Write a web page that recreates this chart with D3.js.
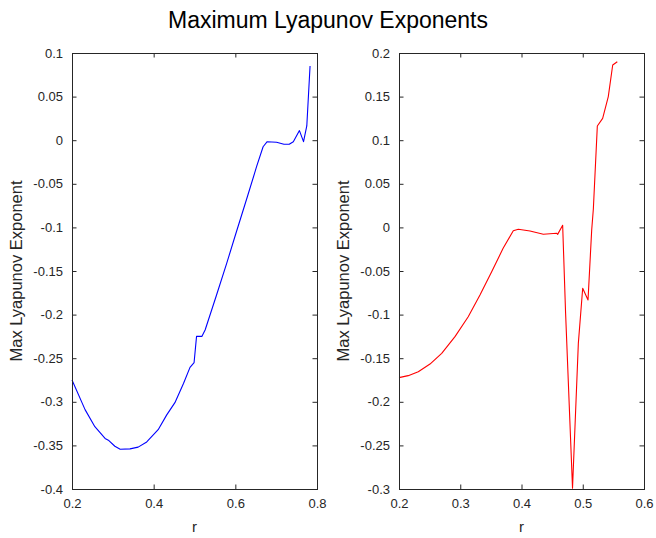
<!DOCTYPE html>
<html>
<head>
<meta charset="utf-8">
<script src="https://cdn.jsdelivr.net/npm/d3@7"></script>
<style>
  html, body { margin: 0; padding: 0; background: #fff; }
  svg { display: block; font-family: "Liberation Sans", Arial, Helvetica, sans-serif; }
</style>
</head>
<body>
<svg id="chart" width="656" height="538"></svg>
<script>
// Maximum Lyapunov exponent versus parameter r, two runs.
const rLeft = [0.200, 0.232, 0.256, 0.281, 0.289, 0.305, 0.318, 0.342, 0.362, 0.383, 0.411, 0.432,
  0.452, 0.473, 0.489, 0.499, 0.505, 0.518, 0.526, 0.554, 0.579, 0.600, 0.630, 0.652, 0.668,
  0.678, 0.701, 0.719, 0.732, 0.742, 0.757, 0.767, 0.775, 0.783];
const lyapLeft = [-0.275, -0.309, -0.3285, -0.342, -0.344, -0.351, -0.3545, -0.354, -0.352, -0.346,
  -0.332, -0.315, -0.301, -0.279, -0.2605, -0.255, -0.225, -0.225, -0.2177, -0.1775, -0.141,
  -0.109, -0.064, -0.0304, -0.0075, -0.0017, -0.0024, -0.0047, -0.0047, -0.0017, 0.011,
  -0.0017, 0.0163, 0.085];

const rRight = [0.200, 0.215, 0.2315, 0.2506, 0.2697, 0.2914, 0.313, 0.3322, 0.3513, 0.370,
  0.3866, 0.3948, 0.4139, 0.4356, 0.4575, 0.459, 0.4672, 0.472, 0.4833, 0.4928, 0.4999,
  0.5086, 0.5146, 0.5173, 0.5238, 0.5325, 0.5417, 0.5489, 0.5564];
const lyapRight = [-0.1723, -0.170, -0.1655, -0.1567, -0.1444, -0.1253, -0.1024, -0.0775, -0.0508,
  -0.024, -0.0038, -0.0022, -0.0041, -0.0079, -0.0067, -0.008, 0.0024, -0.0985, -0.2992,
  -0.133, -0.0698, -0.0833, -0.003, 0.0211, 0.1163, 0.125, 0.150, 0.1862, 0.190];

const xTicksLeft = [0.2, 0.4, 0.6, 0.8];
const yTicksLeft = [0.1, 0.05, 0, -0.05, -0.1, -0.15, -0.2, -0.25, -0.3, -0.35, -0.4];
const xTicksRight = [0.2, 0.3, 0.4, 0.5, 0.6];
const yTicksRight = [0.2, 0.15, 0.1, 0.05, 0, -0.05, -0.1, -0.15, -0.2, -0.25, -0.3];

const titleText = "Maximum Lyapunov Exponents";
const xLabel = "r";
const yLabel = "Max Lyapunov Exponent";

const svg = d3.select("#chart");
const axisColor = "#262626";
const tickLen = 4.5;

// Tick label format: drop trailing zeros
const fmt = v => {
  if (Math.abs(v) < 1e-12) return "0";
  return String(+v.toFixed(2));
};

svg.append("text")
  .attr("x", 328).attr("y", 28)
  .attr("text-anchor", "middle")
  .attr("font-size", 23)
  .attr("fill", "#000")
  .text(titleText);

function panel(opts) {
  const { left, right, top, bottom, xDomain, yDomain, xTicks, yTicks, xs, ys, color } = opts;
  const x = d3.scaleLinear().domain(xDomain).range([left, right]);
  const y = d3.scaleLinear().domain(yDomain).range([bottom, top]);
  const g = svg.append("g");

  // Line
  const pts = xs.map((d, i) => [d, ys[i]]);
  g.append("path")
    .datum(pts)
    .attr("fill", "none")
    .attr("stroke", color)
    .attr("stroke-width", 1.1)
    .attr("stroke-linejoin", "round")
    .attr("d", d3.line().x(d => x(d[0])).y(d => y(d[1])));

  // Axes: ticks pointing inward, labels outside
  const styleAxis = sel => {
    sel.select(".domain").remove();
    sel.selectAll(".tick line").attr("stroke", axisColor);
    sel.selectAll(".tick text").attr("fill", axisColor).attr("font-size", 13)
      .attr("font-family", "'Liberation Sans', Arial, sans-serif");
  };

  g.append("g")
    .attr("transform", `translate(0,${bottom})`)
    .call(d3.axisBottom(x).tickValues(xTicks).tickFormat(fmt).tickSizeInner(-tickLen).tickSizeOuter(0).tickPadding(10))
    .call(styleAxis);
  g.append("g")
    .attr("transform", `translate(0,${top})`)
    .call(d3.axisTop(x).tickValues(xTicks).tickFormat("").tickSizeInner(-tickLen).tickSizeOuter(0))
    .call(styleAxis);
  g.append("g")
    .attr("transform", `translate(${left},0)`)
    .call(d3.axisLeft(y).tickValues(yTicks).tickFormat(fmt).tickSizeInner(-tickLen).tickSizeOuter(0).tickPadding(9))
    .call(styleAxis);
  g.append("g")
    .attr("transform", `translate(${right},0)`)
    .call(d3.axisRight(y).tickValues(yTicks).tickFormat("").tickSizeInner(-tickLen).tickSizeOuter(0))
    .call(styleAxis);

  // Box
  g.append("rect")
    .attr("x", left).attr("y", top)
    .attr("width", right - left).attr("height", bottom - top)
    .attr("fill", "none").attr("stroke", axisColor).attr("stroke-width", 1)
    .attr("shape-rendering", "crispEdges");

  // Axis titles
  g.append("text")
    .attr("x", (left + right) / 2).attr("y", 532)
    .attr("text-anchor", "middle").attr("font-size", 15).attr("fill", axisColor)
    .text(xLabel);
  g.append("text")
    .attr("transform", `translate(${left - 50},${(top + bottom) / 2}) rotate(-90)`)
    .attr("text-anchor", "middle").attr("font-size", 16.5).attr("fill", axisColor)
    .text(yLabel);
}

panel({ left: 72, right: 317, top: 53, bottom: 489,
  xDomain: [0.2, 0.8], yDomain: [-0.4, 0.1],
  xTicks: xTicksLeft, yTicks: yTicksLeft,
  xs: rLeft, ys: lyapLeft, color: "#0000ff" });

panel({ left: 399, right: 644, top: 53, bottom: 489,
  xDomain: [0.2, 0.6], yDomain: [-0.3, 0.2],
  xTicks: xTicksRight, yTicks: yTicksRight,
  xs: rRight, ys: lyapRight, color: "#ff0000" });
</script>
</body>
</html>
